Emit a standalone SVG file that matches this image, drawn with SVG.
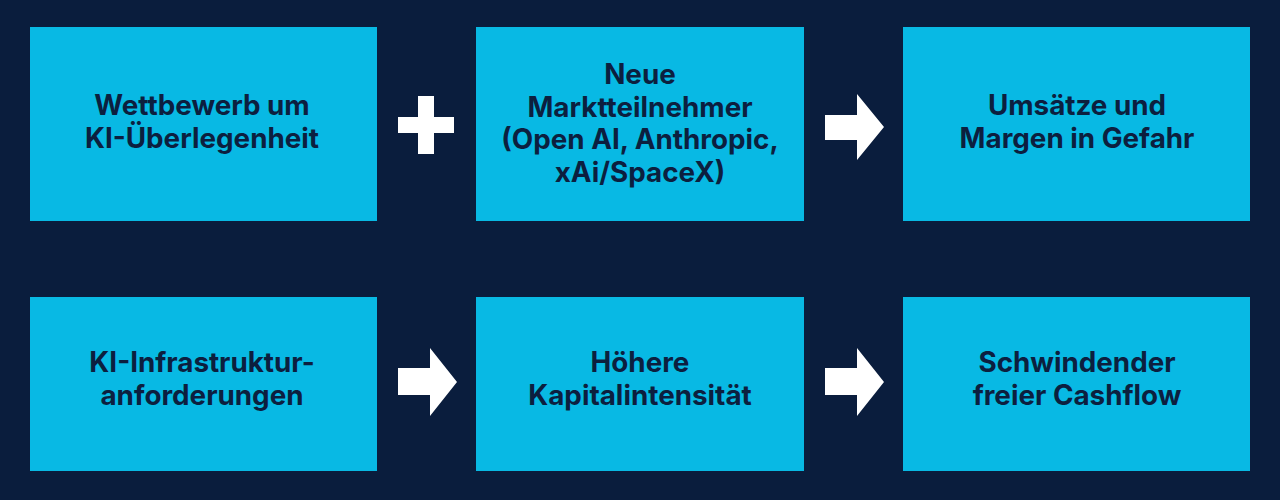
<svg xmlns="http://www.w3.org/2000/svg" width="1280" height="500" viewBox="0 0 1280 500">
<style>
.box{fill:#08b9e4}
.t{font-family:Inter,"Liberation Sans",Arial,sans-serif;font-weight:700;font-size:27.8px;fill:#0c1f3f;text-anchor:middle}
.sym{fill:#ffffff}
</style>
<rect width="1280" height="500" fill="#0a1d3d"/>
<g id="n1"><rect class="box" x="30" y="27" width="347" height="194"/>
<text class="t" x="202" y="115">Wettbewerb um</text><text class="t" x="202" y="148">KI-Überlegenheit</text></g>
<g id="n2"><rect class="box" x="476" y="27" width="328" height="194"/>
<text class="t" x="640" y="84">Neue</text><text class="t" x="640" y="117">Marktteilnehmer</text><text class="t" x="640" y="149">(Open AI, Anthropic,</text><text class="t" x="640" y="182">xAi/SpaceX)</text></g>
<g id="n3"><rect class="box" x="903" y="27" width="347" height="194"/>
<text class="t" x="1077" y="115">Umsätze und</text><text class="t" x="1077" y="148">Margen in Gefahr</text></g>
<g id="n4"><rect class="box" x="30" y="297" width="347" height="174"/>
<text class="t" x="202" y="372">KI-Infrastruktur-</text><text class="t" x="202" y="405">anforderungen</text></g>
<g id="n5"><rect class="box" x="476" y="297" width="328" height="174"/>
<text class="t" x="640" y="372">Höhere</text><text class="t" x="640" y="405">Kapitalintensität</text></g>
<g id="n6"><rect class="box" x="903" y="297" width="347" height="174"/>
<text class="t" x="1077" y="372">Schwindender</text><text class="t" x="1077" y="405">freier Cashflow</text></g>
<g id="connectors">
<path class="sym" d="M418,96 H434 V117 H454 V133 H434 V154 H418 V133 H398 V117 H418 Z"/>
<polygon class="sym" points="825,115 857,115 857,94 884,127 857,160 857,140 825,140"/>
<polygon class="sym" points="398,368 430,368 430,348 457,382 430,416 430,395 398,395"/>
<polygon class="sym" points="825,368 857,368 857,348 884,382 857,416 857,395 825,395"/>
</g>
</svg>
